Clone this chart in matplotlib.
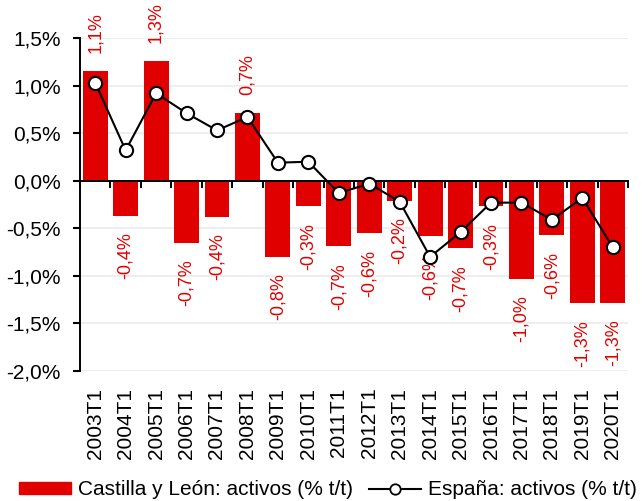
import matplotlib
matplotlib.use("Agg")
import matplotlib.pyplot as plt
from matplotlib.ticker import FuncFormatter, FixedLocator
from matplotlib.patches import Patch
from matplotlib.lines import Line2D

# datos
periodos = ["2003T1", "2004T1", "2005T1", "2006T1", "2007T1", "2008T1",
            "2009T1", "2010T1", "2011T1", "2012T1", "2013T1", "2014T1",
            "2015T1", "2016T1", "2017T1", "2018T1", "2019T1", "2020T1"]
cyl = [1.15, -0.37, 1.26, -0.65, -0.38, 0.71, -0.80, -0.27, -0.69,
       -0.55, -0.21, -0.58, -0.71, -0.27, -1.03, -0.57, -1.29, -1.28]
espana = [1.03, 0.32, 0.92, 0.71, 0.53, 0.67, 0.19, 0.20, -0.13,
          -0.03, -0.22, -0.80, -0.54, -0.23, -0.23, -0.41, -0.18, -0.70]

rojo = "#e10000"
plt.rcParams['font.family'] = ['Liberation Sans', 'DejaVu Sans']

fig = plt.figure(figsize=(6.43, 5.01), dpi=100)
ax = fig.add_axes([0.1244, 0.2595, 0.8523, 0.6645])

x = list(range(len(periodos)))
ax.bar(x, cyl, width=0.82, color=rojo, zorder=2)
ax.plot(x, espana, color="black", lw=1.5, marker="o", markersize=9.5,
        markerfacecolor="white", markeredgecolor="black", markeredgewidth=1.5,
        zorder=4)

# etiquetas de datos
for xi, v in zip(x, cyl):
    txt = f"{v:.1f}%".replace(".", ",")
    if v >= 0:
        ax.annotate(txt, (xi, v), xytext=(0, 13), textcoords="offset points",
                    rotation=90, ha="center", va="bottom", color=rojo,
                    fontsize=13, zorder=3, annotation_clip=False)
    else:
        ax.annotate(txt, (xi, v), xytext=(0, -12), textcoords="offset points",
                    rotation=90, ha="center", va="top", color=rojo,
                    fontsize=13, zorder=3, annotation_clip=False)

ax.set_xlim(-0.5, len(periodos) - 0.5)
ax.set_ylim(-2.0, 1.5)
ax.set_yticks([-2.0, -1.5, -1.0, -0.5, 0.0, 0.5, 1.0, 1.5])
ax.yaxis.set_major_formatter(FuncFormatter(lambda v, p: f"{v:.1f}%".replace(".", ",")))
ax.tick_params(axis="y", labelsize=15, length=5, width=1.5, pad=9)
ax.grid(axis="y", color="#ededed", lw=1.3, zorder=0)
ax.set_axisbelow(True)

ax.spines["top"].set_visible(False)
ax.spines["right"].set_visible(False)
ax.spines["left"].set_linewidth(1.4)
ax.spines["bottom"].set_position(("data", 0))
ax.spines["bottom"].set_linewidth(1.4)
ax.spines["bottom"].set_zorder(3)

bordes = [i + 0.5 for i in range(-1, len(periodos))]
ax.xaxis.set_major_locator(FixedLocator(bordes))
ax.set_xticklabels([])
ax.tick_params(axis="x", length=5, width=1.4, direction="out")

sec = ax.secondary_xaxis(0)
sec.set_xticks(x)
sec.set_xticklabels(periodos, rotation=90, fontsize=15)
sec.tick_params(length=0, pad=12)
sec.spines["bottom"].set_visible(False)

handles = [Patch(color=rojo, label="Castilla y León: activos (% t/t)"),
           Line2D([], [], color="black", lw=1.5, marker="o", markersize=7.5,
                  markerfacecolor="white", markeredgecolor="black",
                  markeredgewidth=1.3, label="España: activos (% t/t)")]
fig.legend(handles=handles, loc="lower center", bbox_to_anchor=(0.51, -0.03),
           ncol=2, frameon=False, fontsize=15, handlelength=2.5,
           handleheight=0.5, handletextpad=0.3, columnspacing=0.8,
           borderpad=0.3)

fig.savefig("out.png", dpi=100)
